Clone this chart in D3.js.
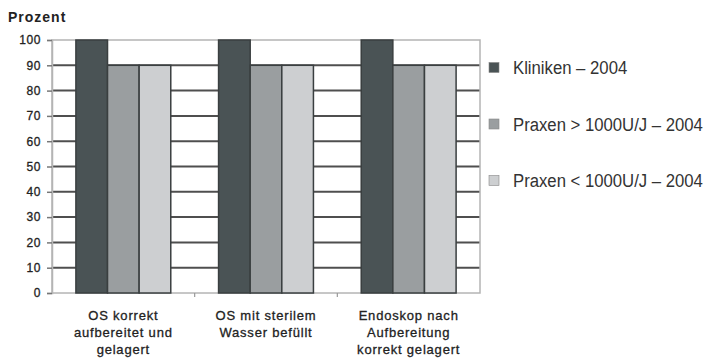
<!DOCTYPE html>
<html>
<head>
<meta charset="utf-8">
<script src="https://cdn.jsdelivr.net/npm/d3@7"></script>
<style>
  body { margin: 0; background: #fff; }
  svg { display: block; }
</style>
</head>
<body>
<svg width="707" height="363"></svg>
<script>
// data
var categories = [
    ["OS korrekt", "aufbereitet und", "gelagert"],
    ["OS mit sterilem", "Wasser befüllt"],
    ["Endoskop nach", "Aufbereitung", "korrekt gelagert"]
];
var seriesNames = ["Kliniken – 2004", "Praxen > 1000U/J – 2004", "Praxen < 1000U/J – 2004"];
var kliniken = [100, 100, 100];
var praxenGross = [90, 90, 90];
var praxenKlein = [90, 90, 90];
var yTicks = [0, 10, 20, 30, 40, 50, 60, 70, 80, 90, 100];
var colors = ["#4a5355", "#9a9ea0", "#cdcfd1"];

var values = [kliniken, praxenGross, praxenKlein];

var svg = d3.select("svg");
var plotLeft = 52, plotRight = 480, plotTop = 40, plotBottom = 293;

var x = d3.scaleBand()
    .domain(d3.range(categories.length))
    .range([plotLeft, plotRight])
    .paddingInner(0.335)
    .paddingOuter(0.1675);

var xs = d3.scaleBand()
    .domain(d3.range(seriesNames.length))
    .range([0, x.bandwidth()]);

var y = d3.scaleLinear().domain([0, 100]).range([plotBottom, plotTop]);

// gridlines (inner ones dark)
svg.append("g")
    .selectAll("line")
    .data(yTicks.filter(function(d) { return d > 0 && d < 100; }))
    .enter().append("line")
    .attr("x1", plotLeft).attr("x2", plotRight)
    .attr("y1", function(d) { return y(d); })
    .attr("y2", function(d) { return y(d); })
    .attr("stroke", "#4f4f4f")
    .attr("stroke-width", 2);

// frame
svg.append("rect")
    .attr("x", plotLeft).attr("y", plotTop)
    .attr("width", plotRight - plotLeft).attr("height", plotBottom - plotTop)
    .attr("fill", "none")
    .attr("stroke", "#b4b4b4")
    .attr("stroke-width", 1.5);

// y axis
var yAxis = svg.append("g")
    .attr("transform", "translate(" + plotLeft + ",0)")
    .call(d3.axisLeft(y).tickValues(yTicks).tickSize(5).tickPadding(6));
yAxis.select(".domain").attr("stroke", "#b4b4b4").attr("stroke-width", 1.5);
yAxis.selectAll(".tick line").attr("stroke", "#777").attr("stroke-width", 1.5);
yAxis.selectAll("text")
    .attr("fill", "#222")
    .attr("stroke", "#222")
    .attr("stroke-width", 0.3)
    .style("font-family", "'Liberation Sans', Arial, sans-serif")
    .style("font-size", "12px")
    .style("letter-spacing", "0.6px");

// x ticks between groups
svg.append("g")
    .selectAll("line")
    .data(d3.range(1, categories.length))
    .enter().append("line")
    .attr("x1", function(i) { return x(i) - x.step() * x.paddingInner() / 2; })
    .attr("x2", function(i) { return x(i) - x.step() * x.paddingInner() / 2; })
    .attr("y1", plotBottom).attr("y2", plotBottom + 4)
    .attr("stroke", "#999").attr("stroke-width", 1.2);

// bars
var groups = svg.append("g").selectAll("g")
    .data(values)
    .enter().append("g");

groups.selectAll("rect")
    .data(function(d, s) { return d.map(function(v, c) { return { s: s, c: c, v: v }; }); })
    .enter().append("rect")
    .attr("x", function(d) { return x(d.c) + xs(d.s); })
    .attr("y", function(d) { return y(d.v); })
    .attr("width", xs.bandwidth())
    .attr("height", function(d) { return y(0) - y(d.v); })
    .attr("fill", function(d) { return colors[d.s]; })
    .attr("stroke", "#3a3f40")
    .attr("stroke-width", 1.5);

// category labels
var catText = svg.append("g").selectAll("text")
    .data(categories)
    .enter().append("text")
    .attr("text-anchor", "middle")
    .attr("fill", "#222")
    .attr("stroke", "#222")
    .attr("stroke-width", 0.3)
    .style("font-family", "'Liberation Sans', Arial, sans-serif")
    .style("font-size", "13px")
    .style("letter-spacing", "0.8px");

catText.selectAll("tspan")
    .data(function(d, i) { return d.map(function(t) { return { t: t, i: i }; }); })
    .enter().append("tspan")
    .attr("x", function(d) { return x(d.i) + x.bandwidth() / 2; })
    .attr("y", function(d, j) { return 320 + j * 17; })
    .text(function(d) { return d.t; });

// axis title
svg.append("text")
    .attr("x", 8).attr("y", 22)
    .attr("fill", "#222")
    .style("font-family", "'Liberation Sans', Arial, sans-serif")
    .style("font-size", "14px")
    .style("font-weight", "bold")
    .style("letter-spacing", "1px")
    .text("Prozent");

// legend
var legend = svg.append("g").selectAll("g")
    .data(seriesNames)
    .enter().append("g")
    .attr("transform", function(d, i) { return "translate(489," + (67.5 + i * 56.5) + ")"; });

legend.append("rect")
    .attr("x", 0).attr("y", -5)
    .attr("width", 10).attr("height", 10)
    .attr("fill", function(d, i) { return colors[i]; })
    .attr("stroke", "#888")
    .attr("stroke-width", 0.6);

legend.append("text")
    .attr("transform", "translate(24,0) scale(0.88,1)")
    .attr("dy", "0.36em")
    .attr("fill", "#333")
    .style("font-family", "'Liberation Sans', Arial, sans-serif")
    .style("font-size", "19px")
    .text(function(d) { return d; });
</script>
</body>
</html>
